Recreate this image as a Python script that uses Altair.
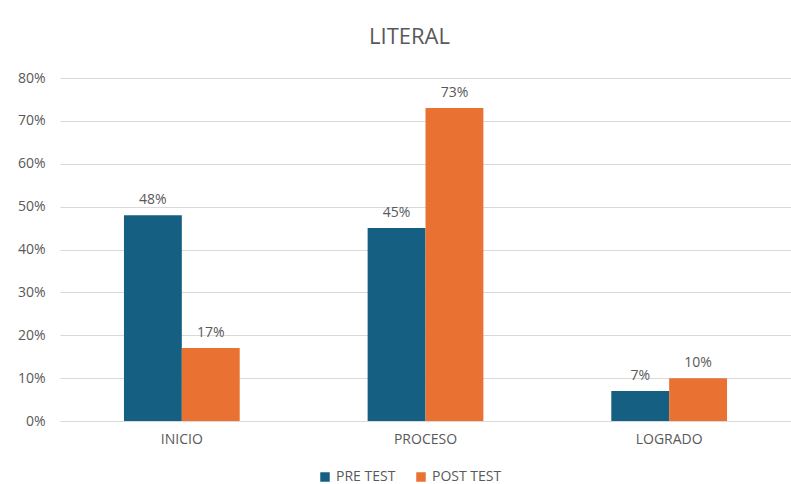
import altair as alt
import pandas as pd

categories = ["INICIO", "PROCESO", "LOGRADO"]
series = ["PRE TEST", "POST TEST"]
pre_test = [0.48, 0.45, 0.07]
post_test = [0.17, 0.73, 0.10]
y_ticks = [0, 0.1, 0.2, 0.3, 0.4, 0.5, 0.6, 0.7, 0.8]

rows = []
for cat, a, b in zip(categories, pre_test, post_test):
    rows.append({"nivel": cat, "grupo": series[0], "valor": a})
    rows.append({"nivel": cat, "grupo": series[1], "valor": b})
df = pd.DataFrame(rows)

FONT = "Open Sans"
GRAY = "#595959"

x = alt.X("nivel:N", sort=categories, title=None,
          scale=alt.Scale(paddingInner=0.525, paddingOuter=0.2625),
          axis=alt.Axis(labelAngle=0, labelFontSize=14, labelColor=GRAY, labelFont=FONT,
                        labelPadding=11, ticks=False, domain=False, grid=False))
xo = alt.XOffset("grupo:N", sort=series)
y = alt.Y("valor:Q", title=None,
          scale=alt.Scale(domain=[0, 0.8]),
          axis=alt.Axis(values=y_ticks, format=".0%", labelFontSize=14, labelColor=GRAY,
                        labelFont=FONT, labelPadding=15, ticks=False, domain=False,
                        grid=True, gridColor="#d9d9d9", gridWidth=1))

bars = alt.Chart(df).mark_bar().encode(
    x=x, xOffset=xo, y=y,
    color=alt.Color("grupo:N", sort=series,
                    scale=alt.Scale(domain=series, range=["#156082", "#E97132"]),
                    legend=alt.Legend(title=None, orient="none", direction="horizontal",
                                      legendX=258, legendY=392, symbolType="square",
                                      symbolSize=90, symbolStrokeWidth=0,
                                      labelFontSize=14, labelColor=GRAY, labelFont=FONT,
                                      columnPadding=18, symbolOffset=0)),
)

labels = alt.Chart(df).mark_text(baseline="bottom", dy=-8, fontSize=14, color=GRAY, font=FONT).encode(
    x=x, xOffset=xo, y=y,
    text=alt.Text("valor:Q", format=".0%"),
)

chart = (bars + labels).properties(
    width=731, height=343,
    title=alt.TitleParams("LITERAL", fontSize=22, font=FONT, fontWeight="normal",
                          color=GRAY, anchor="middle", dx=-16, offset=22),
    autosize=alt.AutoSizeParams(type="none"),
    padding={"left": 60, "top": 78, "right": 0, "bottom": 63},
).configure(background="white").configure_view(stroke="transparent", strokeWidth=0).configure_axisX(grid=False)

chart.save("out.html", embed_options={"renderer": "svg", "actions": False})
